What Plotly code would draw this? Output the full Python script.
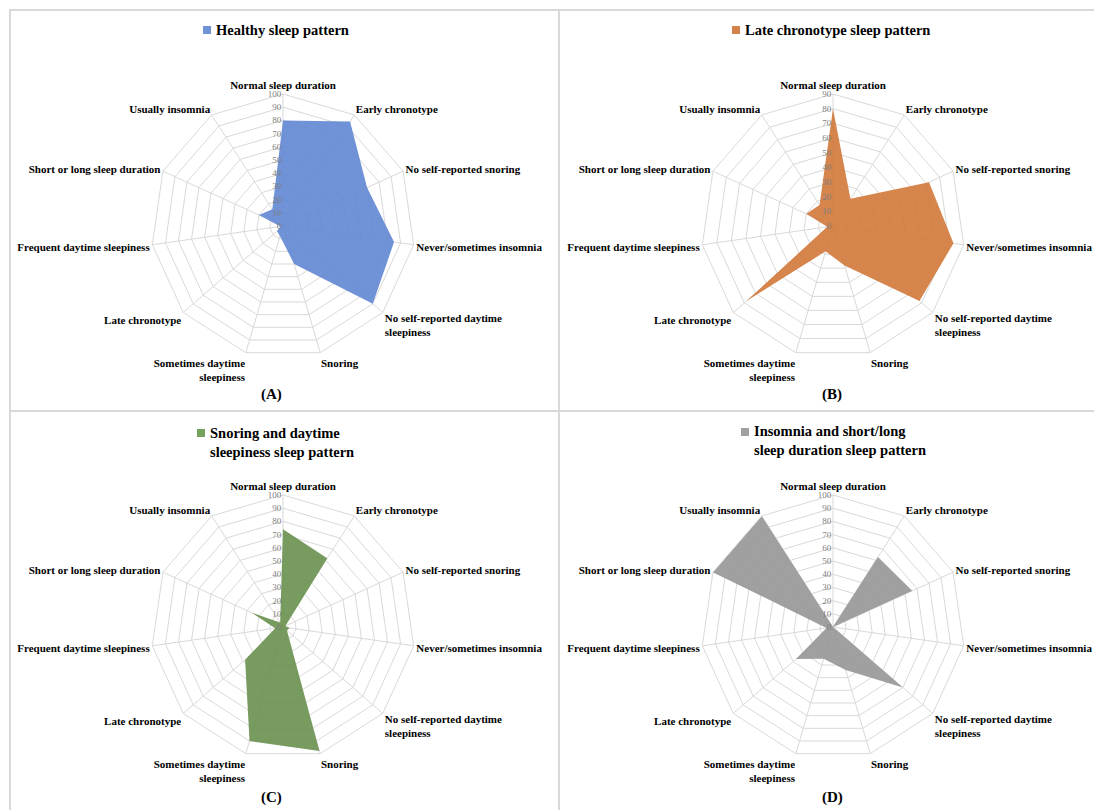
import plotly.graph_objects as go

categories = [
    "Normal sleep duration",
    "Early chronotype",
    "No self-reported snoring",
    "Never/sometimes insomnia",
    "No self-reported daytime<br>sleepiness",
    "Snoring",
    "Sometimes daytime<br>sleepiness",
    "Late chronotype",
    "Frequent daytime sleepiness",
    "Short or long sleep duration",
    "Usually insomnia",
]

healthy = [80, 94, 70, 85, 90, 30, 8, 6, 2, 20, 15]
late_chronotype = [80, 22, 72, 83, 78, 28, 18, 78, 4, 20, 17]
snoring_daytime = [74, 62, 2, 5, 4, 98, 90, 38, 6, 26, 4]
insomnia_duration = [0, 63, 66, 0, 70, 34, 25, 37, 5, 100, 100]

pattern_names = [
    "Healthy sleep pattern",
    "Late chronotype sleep pattern",
    "Snoring and daytime<br>sleepiness sleep pattern",
    "Insomnia and short/long<br>sleep duration sleep pattern",
]
panel_tags = ["(A)", "(B)", "(C)", "(D)"]
radial_max = [100, 90, 100, 100]
fill_colors = ["rgba(96,134,209,0.9)", "rgba(209,120,58,0.9)",
               "rgba(105,144,78,0.9)", "rgba(150,150,150,0.9)"]
swatch_colors = ["#7091d6", "#d4824a", "#77a05e", "#a0a0a0"]
series = [healthy, late_chronotype, snoring_daytime, insomnia_duration]

W, H = 1094, 810
SERIF = "Liberation Serif"
GRID = "#d9d9d9"

# panel centres in pixels and polar radius
centres = [(283, 226), (833, 226), (283, 627), (833, 627)]
R = 132

fig = go.Figure()
layout_polars = {}
for i, (vals, col) in enumerate(zip(series, fill_colors)):
    pname = "polar" if i == 0 else f"polar{i+1}"
    cx, cy = centres[i]
    fig.add_trace(go.Scatterpolar(
        r=vals + [vals[0]],
        theta=categories + [categories[0]],
        fill="toself",
        fillcolor=col,
        line=dict(width=0, color=col),
        mode="lines",
        subplot=pname,
        showlegend=False,
        hoverinfo="skip",
    ))
    layout_polars[pname] = dict(
        domain=dict(x=[(cx - R) / W, (cx + R) / W],
                    y=[1 - (cy + R) / H, 1 - (cy - R) / H]),
        gridshape="linear",
        bgcolor="white",
        radialaxis=dict(
            range=[0, radial_max[i]], dtick=10, angle=90, tickangle=90,
            side="counterclockwise",
            showline=False, ticks="", gridcolor=GRID, gridwidth=1,
            tickfont=dict(family=SERIF, size=9, color="#7f7f7f"),
        ),
        angularaxis=dict(
            direction="clockwise", rotation=90, type="category",
            categoryarray=categories,
            showline=True, linecolor=GRID, linewidth=1,
            gridcolor=GRID, gridwidth=1, ticks="",
            tickfont=dict(family=SERIF, size=11, color="#000000",
                          weight="bold"),
        ),
    )

shapes = []
# panel frames
frames = [(10, 10, 559, 411), (559, 10, 1100, 411),
          (10, 411, 559, 815), (559, 411, 1100, 815)]
for x0, y0, x1, y1 in frames:
    shapes.append(dict(type="rect", xref="paper", yref="paper",
                       x0=x0 / W, x1=x1 / W, y0=1 - y1 / H, y1=1 - y0 / H,
                       line=dict(color=GRID, width=2), layer="below"))

annotations = []
# pattern titles with colour swatches
title_pos = [(214, 30), (743, 30), (208, 442), (752, 441)]
for i, ((tx, ty), name) in enumerate(zip(title_pos, pattern_names)):
    two_lines = "<br>" in name
    top = ty - (9 if two_lines else 0)
    shapes.append(dict(type="rect", xref="paper", yref="paper",
                       x0=(tx - 11) / W, x1=(tx - 3) / W,
                       y0=1 - (top + 4) / H, y1=1 - (top - 4) / H,
                       fillcolor=swatch_colors[i], line=dict(width=0)))
    annotations.append(dict(
        text=f"<b>{name}</b>", x=tx / W, y=1 - ty / H,
        xref="paper", yref="paper", xanchor="left", yanchor="middle",
        align="left", showarrow=False,
        font=dict(family=SERIF, size=14.5, color="#000000"),
    ))

tag_pos = [(271, 395), (832, 395), (271, 797), (832, 797)]
for (tx, ty), tag in zip(tag_pos, panel_tags):
    annotations.append(dict(
        text=f"<b>{tag}</b>", x=tx / W, y=1 - ty / H,
        xref="paper", yref="paper", xanchor="center", yanchor="middle",
        showarrow=False, font=dict(family=SERIF, size=15, color="#000000"),
    ))

fig.update_layout(
    width=W, height=H,
    margin=dict(l=0, r=0, t=0, b=0),
    paper_bgcolor="white",
    shapes=shapes,
    annotations=annotations,
    **layout_polars,
)

fig.write_html("out.html")
